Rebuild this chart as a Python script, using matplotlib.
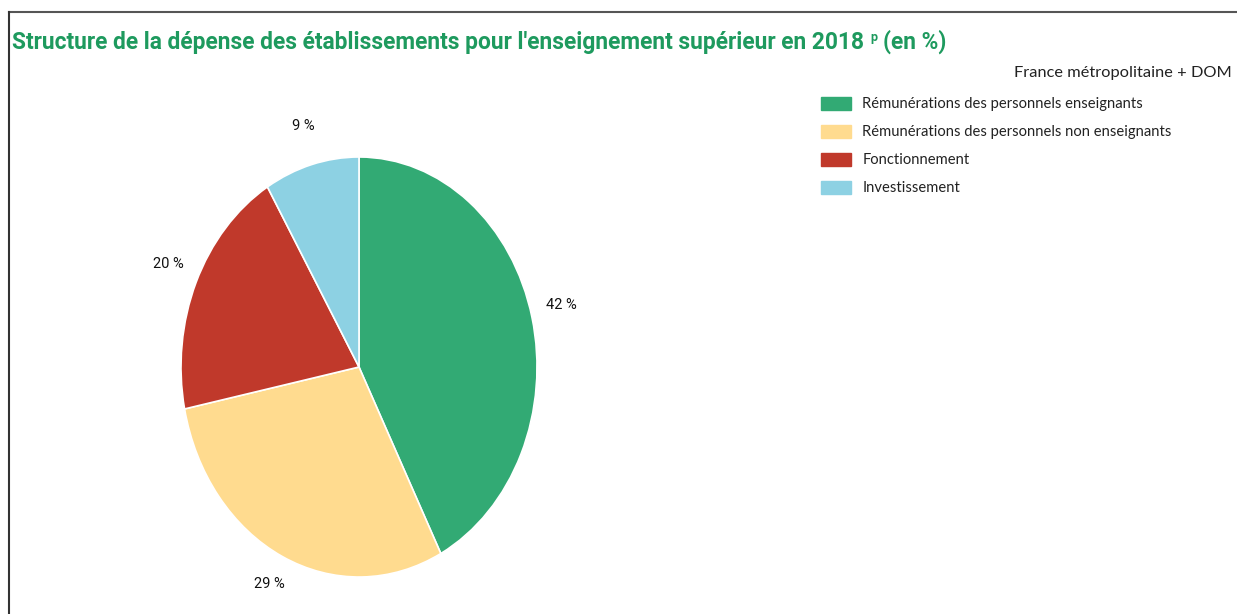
import matplotlib
matplotlib.use("Agg")
import matplotlib.pyplot as plt
from matplotlib.patches import Patch
from matplotlib.lines import Line2D

categories = ["Rémunérations des personnels enseignants",
              "Rémunérations des personnels non enseignants",
              "Fonctionnement",
              "Investissement"]
values = [42.4, 29.4, 19.6, 8.6]
labels = ["42 %", "29 %", "20 %", "9 %"]
colors = ["#32AA74", "#FFDB8F", "#C0392B", "#8DD1E3"]

W, H = 1237, 614
fig = plt.figure(figsize=(W / 100, H / 100), dpi=100)
fig.patch.set_facecolor("white")

# frame lines (top and left)
fig.add_artist(Line2D([9 / W, 1], [1 - 12 / H, 1 - 12 / H], color="#555555", lw=1.5))
fig.add_artist(Line2D([9 / W, 9 / W], [0, 1 - 12 / H], color="#333333", lw=1.5))

title_color = "#1E9A5E"
tsize = 16.4
t1 = fig.text(12 / W, 1 - 42 / H,
              "Structure de la dépense des établissements pour l'enseignement supérieur en 2018",
              fontsize=tsize, fontweight="bold", color=title_color, family="Roboto",
              va="center", ha="left")
fig.canvas.draw()
r = fig.canvas.get_renderer()
bb = t1.get_window_extent(r)
x_end = bb.x1
tp = fig.text((x_end + 6) / W, 1 - 37 / H, "p", fontsize=9, color=title_color, family="Roboto",
              va="center", ha="left", fontweight="bold")
bbp = tp.get_window_extent(r)
fig.text((bbp.x1 + 6) / W, 1 - 42 / H, "(en %)", fontsize=tsize, fontweight="bold",
         color=title_color, family="Roboto", va="center", ha="left")

fig.text(1232 / W, 1 - 73 / H, "France métropolitaine + DOM", fontsize=11.8, color="#222222",
         family="Lato", ha="right", va="center")

# pie axes: center (359, 367), rx 178, ry 210
cx, cy, rx, ry = 359, 367, 178, 210
ax = fig.add_axes([(cx - rx) / W, (H - cy - ry) / H, 2 * rx / W, 2 * ry / H])
wedges, texts = ax.pie(values, labels=labels, colors=colors, startangle=90, counterclock=False,
                       labeldistance=1.17, radius=1,
                       wedgeprops=dict(edgecolor="white", linewidth=1.2),
                       textprops=dict(fontsize=10.5, color="#111111", family="Roboto"))
for t in texts:
    t.set_ha("center")
    t.set_va("center")
    x, y = t.get_position()
    t.set_position((x, y + 0.02))
ax.set_aspect("auto")
ax.set_xlim(-1, 1)
ax.set_ylim(-1, 1)
ax.axis("off")

handles = [Patch(facecolor=c, edgecolor=c) for c in colors]
leg = fig.legend(handles, categories, loc="upper left", bbox_to_anchor=(821 / W, 1 - 97 / H),
                 frameon=False, fontsize=10.6, handlelength=2.05, handleheight=0.95,
                 labelspacing=0.92, handletextpad=0.75, borderaxespad=0, borderpad=0)
for t in leg.get_texts():
    t.set_family("Lato")
    t.set_color("#222222")

fig.savefig("out.png", dpi=100, facecolor="white")
